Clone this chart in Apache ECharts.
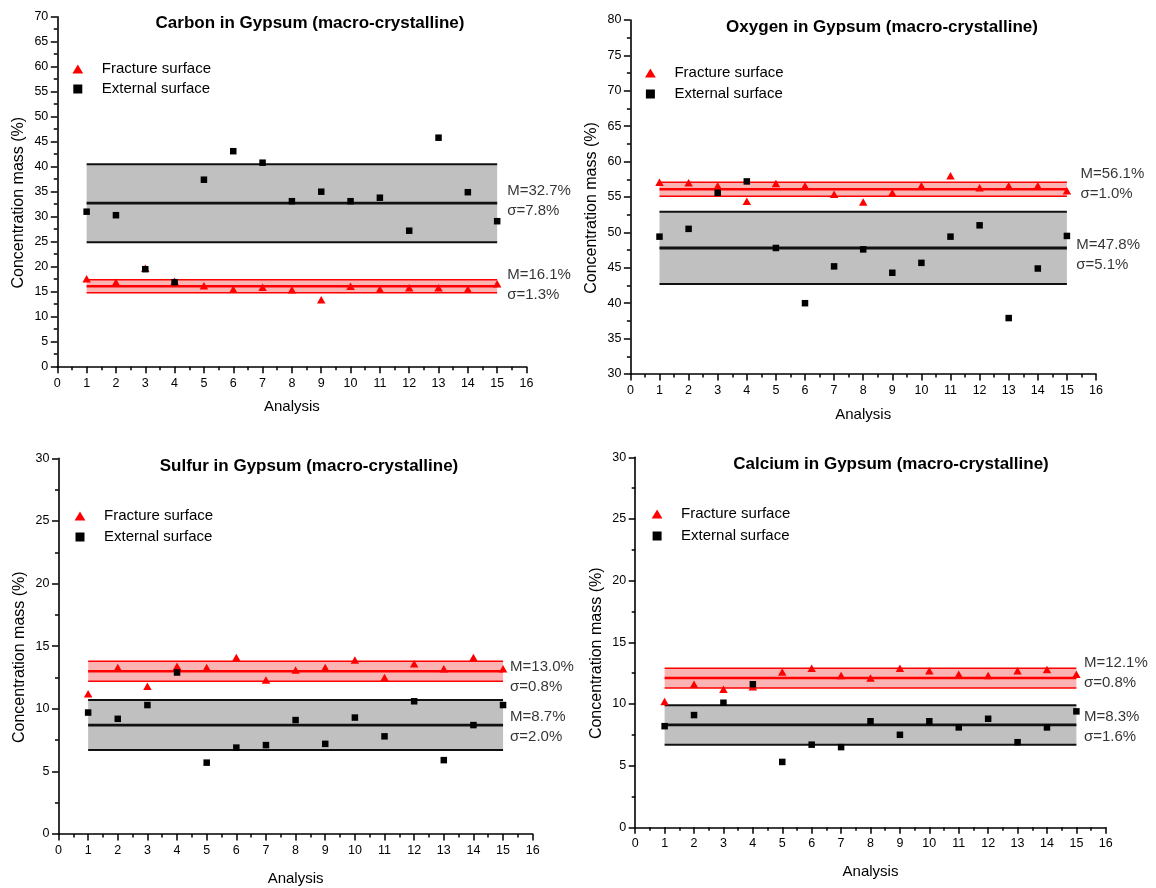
<!DOCTYPE html>
<html>
<head>
<meta charset="utf-8">
<script src="https://cdn.jsdelivr.net/npm/echarts@6/dist/echarts.min.js"></script>
<style>
  html, body { margin: 0; padding: 0; background: #fff; }
  #main { width: 1156px; height: 888px; }
</style>
</head>
<body>
<div id="main"></div>
<script>
// ---------------- data ----------------
const analysisNo = [1, 2, 3, 4, 5, 6, 7, 8, 9, 10, 11, 12, 13, 14, 15];
const xRange = [0, 16];

const carbonFracture = [17.6, 16.9, 19.7, 17.1, 16.2, 15.5, 15.9, 15.4, 13.4, 16.1, 15.5, 15.8, 15.8, 15.5, 16.6];
const carbonExternal = [31.0, 30.3, 19.5, 16.9, 37.4, 43.1, 40.8, 33.1, 35.0, 33.1, 33.8, 27.2, 45.8, 34.9, 29.1];
const carbonFractureStats = [16.1, 1.3];   // [mean, sigma]
const carbonExternalStats = [32.7, 7.8];
const carbonYRange = [0, 70];

const oxygenFracture = [57.1, 57.0, 56.6, 54.4, 56.9, 56.6, 55.4, 54.3, 55.6, 56.6, 58.0, 56.3, 56.6, 56.6, 55.9];
const oxygenExternal = [49.4, 50.5, 55.6, 57.2, 47.8, 40.0, 45.2, 47.6, 44.3, 45.7, 49.4, 51.0, 37.9, 44.9, 49.5];
const oxygenFractureStats = [56.1, 1.0];
const oxygenExternalStats = [47.8, 5.1];
const oxygenYRange = [30, 80];

const sulfurFracture = [11.2, 13.3, 11.8, 13.4, 13.3, 14.1, 12.3, 13.1, 13.3, 13.9, 12.5, 13.6, 13.2, 14.1, 13.2];
const sulfurExternal = [9.7, 9.2, 10.3, 12.9, 5.7, 6.9, 7.1, 9.1, 7.2, 9.3, 7.8, 10.6, 5.9, 8.7, 10.3];
const sulfurFractureStats = [13.0, 0.8];
const sulfurExternalStats = [8.7, 2.0];
const sulfurYRange = [0, 30];

const calciumFracture = [10.2, 11.6, 11.2, 11.4, 12.6, 12.9, 12.3, 12.1, 12.9, 12.7, 12.4, 12.3, 12.7, 12.8, 12.4];
const calciumExternal = [8.2, 9.1, 10.1, 11.6, 5.3, 6.7, 6.5, 8.6, 7.5, 8.6, 8.1, 8.8, 6.9, 8.1, 9.4];
const calciumFractureStats = [12.1, 0.8];
const calciumExternalStats = [8.3, 1.6];
const calciumYRange = [0, 30];

const bandSpan = [1, 15];
const titles = ['Carbon in Gypsum (macro-crystalline)', 'Oxygen in Gypsum (macro-crystalline)',
                'Sulfur in Gypsum (macro-crystalline)', 'Calcium in Gypsum (macro-crystalline)'];
const seriesNames = ['Fracture surface', 'External surface'];
const xName = 'Analysis';
const yName = 'Concentration mass (%)';

// ---------------- layout / style ----------------
const FONT = 'Arial, "Liberation Sans", Helvetica, sans-serif';
const RED = '#ff0000';
const PINK = '#fbb4b4';
const GREY = '#c0c0c0';
const BLACK = '#000000';

const panels = [
  { fr: carbonFracture, ex: carbonExternal, frS: carbonFractureStats, exS: carbonExternalStats, yr: carbonYRange,
    grid: { left: 57.3, top: 16.7, width: 469.2, height: 350 }, titleXY: [310, 23], legendLT: [72.4, 60], legendGap: 2,
    xGap: 32.6, frLab: [10, -1.8], exLab: [10, -2] },
  { fr: oxygenFracture, ex: oxygenExternal, frS: oxygenFractureStats, exS: oxygenExternalStats, yr: oxygenYRange,
    grid: { left: 630.4, top: 20, width: 465.6, height: 354 }, titleXY: [882, 27], legendLT: [645, 64], legendGap: 3,
    xGap: 33, frLab: [13.6, -5], exLab: [9.3, 7] },
  { fr: sulfurFracture, ex: sulfurExternal, frS: sulfurFractureStats, exS: sulfurExternalStats, yr: sulfurYRange,
    grid: { left: 58.5, top: 458.4, width: 474.2, height: 375.6 }, titleXY: [309, 466], legendLT: [74.6, 507], legendGap: 3,
    xGap: 37, frLab: [7, 5.7], exLab: [7, 2.2] },
  { fr: calciumFracture, ex: calciumExternal, frS: calciumFractureStats, exS: calciumExternalStats, yr: calciumYRange,
    grid: { left: 635.2, top: 457.3, width: 470.6, height: 370 }, titleXY: [891, 464], legendLT: [651.7, 505], legendGap: 4,
    xGap: 37, frLab: [7.6, -5.6], exLab: [7.6, 2] }
];

const grids = [], xAxes = [], yAxes = [], series = [], legends = [], graphics = [];

function bandSeries(i, stats, lineColor, fillColor, edgeW, meanW, z) {
  const m = stats[0], s = stats[1];
  const mk = (v, w, withArea) => {
    const o = {
      type: 'line', xAxisIndex: i, yAxisIndex: i, z: z,
      data: [[bandSpan[0], v], [bandSpan[1], v]],
      showSymbol: false, symbol: 'none', silent: true, animation: false,
      lineStyle: { color: lineColor, width: w }
    };
    if (withArea) {
      o.markArea = {
        silent: true, animation: false,
        itemStyle: { color: fillColor, opacity: 1 },
        data: [[{ coord: [bandSpan[0], m - s] }, { coord: [bandSpan[1], m + s] }]]
      };
    }
    return o;
  };
  series.push(mk(m - s, edgeW, false));
  series.push(mk(m + s, edgeW, false));
  series.push(mk(m, meanW, true));
}

function labelSeries(i, stats, lab) {
  const m = stats[0], s = stats[1];
  series.push({
    type: 'scatter', xAxisIndex: i, yAxisIndex: i, silent: true, animation: false, z: 10,
    symbolSize: 0, data: [[bandSpan[1], m]],
    label: {
      show: true, position: 'right', distance: lab[0], offset: [0, lab[1]],
      formatter: 'M=' + m.toFixed(1) + '%\nσ=' + s.toFixed(1) + '%',
      fontFamily: FONT, fontSize: 15, lineHeight: 20, color: BLACK, align: 'left'
    }
  });
}

panels.forEach((p, i) => {
  grids.push(Object.assign({ containLabel: false }, p.grid));
  xAxes.push({
    type: 'value', gridIndex: i, min: xRange[0], max: xRange[1], interval: 1,
    name: xName, nameLocation: 'middle', nameGap: p.xGap,
    nameTextStyle: { fontFamily: FONT, fontSize: 15, color: BLACK },
    axisLine: { onZero: false, lineStyle: { color: BLACK, width: 1.6 } },
    axisTick: { show: true, inside: false, length: 6.5, lineStyle: { color: BLACK, width: 1.5 } },
    minorTick: { show: true, splitNumber: 2, length: 3.5, lineStyle: { color: BLACK, width: 1.5 } },
    axisLabel: { fontFamily: FONT, fontSize: 12.5, color: BLACK, margin: 10 },
    splitLine: { show: false }
  });
  yAxes.push({
    type: 'value', gridIndex: i, min: p.yr[0], max: p.yr[1], interval: 5,
    name: yName, nameLocation: 'middle', nameGap: 31,
    nameTextStyle: { fontFamily: FONT, fontSize: 16, color: BLACK, padding: [0, 22, 0, 0] },
    axisLine: { onZero: false, lineStyle: { color: BLACK, width: 1.6 } },
    axisTick: { show: true, inside: false, length: 6.5, lineStyle: { color: BLACK, width: 1.5 } },
    minorTick: { show: true, splitNumber: 2, length: 3.5, lineStyle: { color: BLACK, width: 1.5 } },
    axisLabel: { fontFamily: FONT, fontSize: 12.5, color: BLACK, margin: 9 },
    splitLine: { show: false }
  });

  bandSeries(i, p.exS, '#111111', GREY, 2, 2.8, 1);
  bandSeries(i, p.frS, RED, PINK, 1.5, 2.6, 1);

  series.push({
    name: seriesNames[0], type: 'scatter', xAxisIndex: i, yAxisIndex: i, z: 5, animation: false,
    symbol: 'triangle', symbolSize: [8.5, 7.5],
    itemStyle: { color: RED, opacity: 1 },
    data: analysisNo.map((x, k) => [x, p.fr[k]])
  });
  series.push({
    name: seriesNames[1], type: 'scatter', xAxisIndex: i, yAxisIndex: i, z: 6, animation: false,
    symbol: 'rect', symbolSize: 6.5,
    itemStyle: { color: BLACK, opacity: 1 },
    data: analysisNo.map((x, k) => [x, p.ex[k]])
  });

  labelSeries(i, p.exS, p.exLab);
  labelSeries(i, p.frS, p.frLab);

  legends.push({
    orient: 'vertical', left: p.legendLT[0], top: p.legendLT[1], padding: 0,
    itemWidth: 38, itemHeight: 9, itemGap: p.legendGap, selectedMode: false,
    symbolKeepAspect: true,
    itemStyle: { opacity: 1 },
    textStyle: { fontFamily: FONT, fontSize: 15, color: BLACK, lineHeight: 18 },
    data: [
      { name: seriesNames[0], icon: 'path://M6,0L12,10L0,10Z' },
      { name: seriesNames[1], icon: 'path://M0,0L8,0L8,8L0,8Z' }
    ]
  });

  graphics.push({
    type: 'text', x: p.titleXY[0], y: p.titleXY[1], silent: true,
    style: {
      text: titles[i], fill: BLACK, fontFamily: FONT, fontSize: 17, fontWeight: 'bold',
      align: 'center', verticalAlign: 'middle', textAlign: 'center', textVerticalAlign: 'middle'
    }
  });
});

const chart = echarts.init(document.getElementById('main'), null, { renderer: 'canvas' });
chart.setOption({
  backgroundColor: '#ffffff',
  animation: false,
  grid: grids,
  xAxis: xAxes,
  yAxis: yAxes,
  legend: legends,
  graphic: { elements: graphics },
  series: series
});
</script>
</body>
</html>
